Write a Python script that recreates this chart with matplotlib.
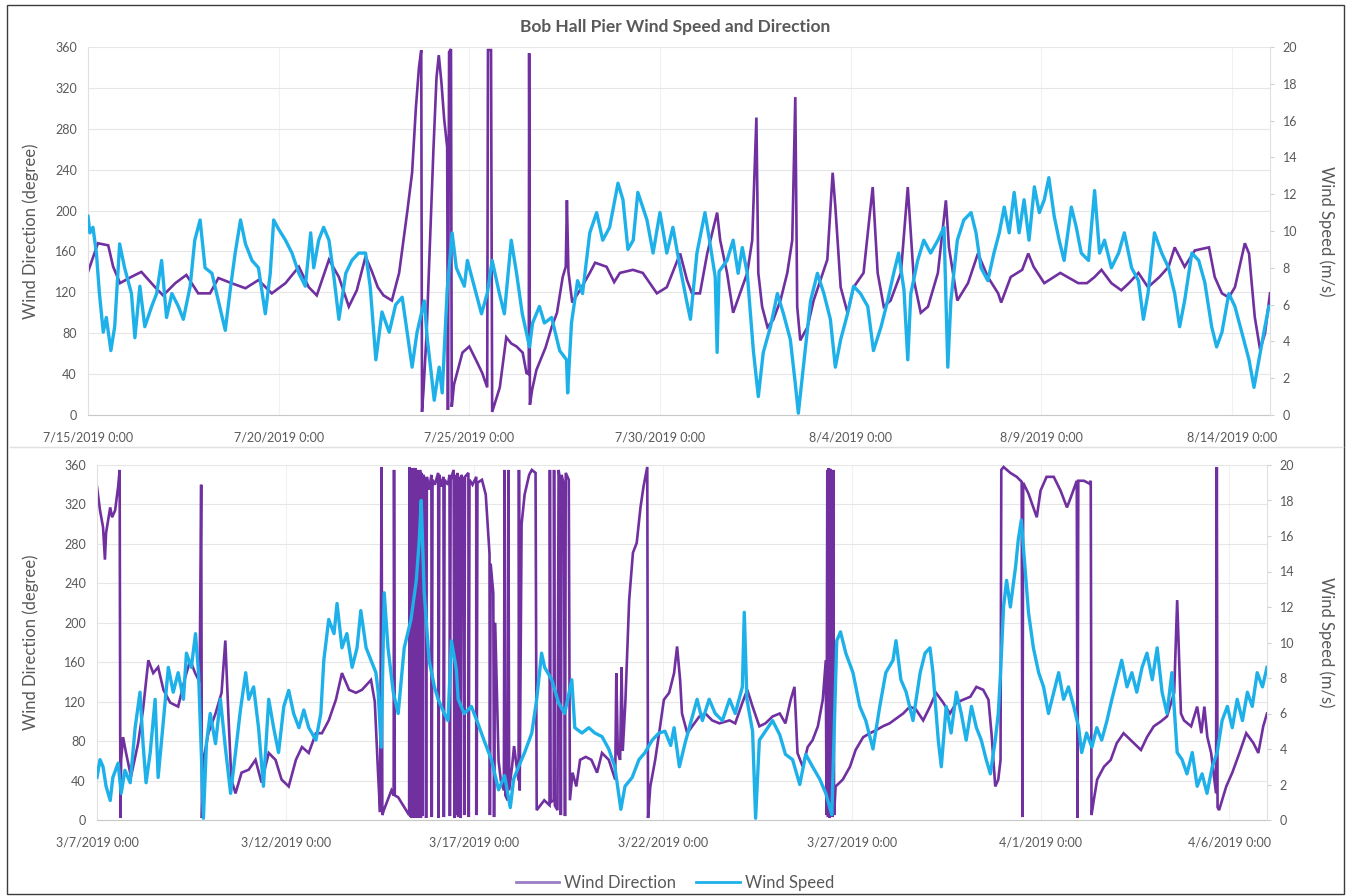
import matplotlib
matplotlib.use("Agg")
import matplotlib.pyplot as plt
import matplotlib.dates as mdates
import numpy as np
import pandas as pd
from matplotlib.lines import Line2D
from matplotlib.patches import Rectangle

plt.rcParams['font.family'] = ['Lato', 'DejaVu Sans']

# ---------------- DATA (day offset from panel start, value) ----------------
top_start = "2019-07-15"
bottom_start = "2019-03-07"
n_days = 31
top_tick_days = [0, 5, 10, 15, 20, 25, 30]
bottom_tick_days = [0, 5, 10, 15, 20, 25, 30]

top_dir = [(0.0,140),(0.26,168),(0.53,166),(0.66,145),(0.84,129),(1.13,135),(1.4,140),(1.76,125),(1.97,117),
(2.29,129),(2.58,137),(2.89,119),(3.2,119),(3.42,134),(3.76,129),(4.13,124),(4.47,132),(4.82,119),(5.18,129),
(5.53,145),(5.79,125),(6.0,117),(6.32,152),(6.58,135),(6.84,106),(7.05,122),(7.28,155),(7.45,140),(7.6,125),
(7.75,117),(7.97,112),(8.16,139),(8.37,198),(8.5,237),(8.6,301),(8.68,340),(8.74,357),(8.76,3),(8.8,25),
(8.88,80),(8.97,170),(9.06,260),(9.14,330),(9.2,352),(9.27,325),(9.34,290),(9.42,262),(9.44,5),(9.47,355),
(9.52,358),(9.54,8),(9.6,30),(9.82,61),(10.0,67),(10.2,52),(10.34,41),(10.47,27),(10.49,357),(10.57,357),
(10.6,3),(10.8,27),(10.97,76),(11.1,70),(11.24,67),(11.4,61),(11.5,41),(11.56,40),(11.57,354),(11.59,10),
(11.65,25),(11.76,44),(12.0,66),(12.16,86),(12.3,100),(12.45,135),(12.53,145),(12.56,210),(12.6,140),
(12.7,110),(12.9,122),(13.16,139),(13.3,149),(13.6,145),(13.8,130),(13.95,139),(14.29,142),(14.55,139),
(14.92,119),(15.18,125),(15.53,158),(15.71,132),(15.84,119),(16.05,119),(16.24,158),(16.5,198),(16.58,171),
(16.76,139),(16.92,100),(17.1,119),(17.29,139),(17.42,171),(17.53,291),(17.58,139),(17.68,106),(17.82,86),
(17.97,93),(18.16,112),(18.34,139),(18.47,171),(18.55,311),(18.6,106),(18.68,73),(18.87,86),(19.03,112),
(19.21,132),(19.39,152),(19.53,237),(19.6,204),(19.74,125),(19.92,100),(20.08,125),(20.34,139),(20.58,223),
(20.71,139),(20.87,106),(21.05,112),(21.32,139),(21.5,223),(21.66,132),(21.84,100),(22.03,106),(22.29,139),
(22.5,210),(22.58,164),(22.8,112),(23.08,129),(23.34,158),(23.6,135),(23.87,119),(23.95,110),(24.2,135),
(24.5,142),(24.66,158),(24.8,145),(25.08,129),(25.5,139),(25.97,129),(26.2,129),(26.4,135),(26.58,142),
(26.84,129),(27.1,122),(27.3,129),(27.55,139),(27.8,125),(28.1,135),(28.34,145),(28.5,164),(28.76,145),
(29.03,161),(29.4,164),(29.55,135),(29.74,119),(29.92,115),(30.08,125),(30.34,168),(30.45,158),(30.6,96),
(30.74,64),(30.87,80),(31.0,119)]

top_spd = [(0.0,10.8),(0.05,9.9),(0.13,10.2),(0.22,8.8),(0.3,6.6),(0.4,4.5),(0.48,5.3),(0.6,3.5),(0.7,4.8),
(0.83,9.3),(0.96,8.0),(1.14,6.6),(1.23,4.2),(1.36,7.0),(1.49,4.8),(1.67,5.9),(1.8,6.6),(1.93,8.4),(2.06,5.3),
(2.2,6.6),(2.37,5.9),(2.5,5.2),(2.68,7.0),(2.8,9.5),(2.94,10.6),(3.07,8.0),(3.25,7.7),(3.42,6.2),(3.6,4.6),
(3.73,6.8),(3.86,8.8),(4.0,10.6),(4.13,9.3),(4.3,8.4),(4.47,8.0),(4.65,5.5),(4.78,7.7),(4.87,10.6),(5.0,10.1),
(5.18,9.5),(5.35,8.8),(5.53,7.7),(5.7,7.0),(5.84,9.9),(5.92,8.0),(6.05,9.5),(6.18,10.2),(6.32,9.5),(6.45,7.5),
(6.58,5.2),(6.76,7.7),(6.92,8.4),(7.1,8.8),(7.28,8.8),(7.4,7.0),(7.55,3.0),(7.71,5.6),(7.9,4.5),(8.07,6.0),
(8.24,6.4),(8.37,4.5),(8.5,2.6),(8.63,4.5),(8.82,6.2),(8.9,4.1),(9.0,2.3),(9.08,0.8),(9.21,2.6),(9.29,1.2),
(9.42,6.8),(9.55,9.9),(9.66,8.0),(9.87,7.0),(9.95,8.4),(10.13,7.0),(10.32,5.5),(10.47,6.6),(10.6,8.4),
(10.79,6.6),(10.92,5.5),(11.1,9.5),(11.24,7.7),(11.39,5.5),(11.58,3.7),(11.66,5.0),(11.84,5.9),(11.97,5.0),
(12.16,5.3),(12.37,3.5),(12.55,3.0),(12.58,1.2),(12.68,5.0),(12.84,7.3),(12.97,6.6),(13.16,9.9),(13.34,11.0),
(13.5,9.5),(13.68,10.2),(13.9,12.6),(14.03,11.7),(14.16,9.0),(14.3,9.5),(14.42,12.1),(14.66,10.6),(14.82,8.8),
(15.0,11.0),(15.18,8.8),(15.34,10.2),(15.53,8.0),(15.7,6.2),(15.8,5.2),(15.97,8.8),(16.18,11.0),(16.3,9.5),
(16.45,7.5),(16.5,3.4),(16.55,7.8),(16.76,8.4),(16.92,9.5),(17.05,7.7),(17.16,9.1),(17.29,7.7),(17.45,3.5),
(17.58,1.0),(17.71,3.4),(17.9,4.8),(18.08,6.6),(18.24,5.5),(18.42,4.1),(18.55,1.7),(18.63,0.1),(18.76,2.6),
(18.95,6.2),(19.13,7.7),(19.3,6.6),(19.47,5.2),(19.6,2.6),(19.74,4.1),(19.92,5.5),(20.08,7.0),(20.26,6.6),
(20.45,5.9),(20.6,3.5),(20.8,4.8),(20.97,6.2),(21.13,7.7),(21.26,8.8),(21.4,6.8),(21.5,3.0),(21.58,6.6),
(21.76,8.4),(21.92,9.5),(22.1,8.8),(22.29,9.5),(22.45,10.2),(22.55,2.6),(22.63,6.2),(22.8,9.5),(22.97,10.6),
(23.16,11.0),(23.29,9.9),(23.42,8.0),(23.6,7.3),(23.76,8.8),(23.9,9.9),(24.03,11.3),(24.16,9.9),(24.29,12.1),
(24.42,9.9),(24.55,11.7),(24.68,9.5),(24.82,12.4),(24.95,11.0),(25.08,11.7),(25.2,12.9),(25.34,10.8),
(25.47,9.5),(25.6,8.4),(25.79,11.3),(25.92,10.2),(26.05,8.8),(26.24,8.4),(26.4,12.2),(26.53,8.8),(26.66,9.5),
(26.84,8.0),(27.03,8.8),(27.18,9.9),(27.37,8.0),(27.55,7.3),(27.68,5.2),(27.8,6.6),(27.97,9.9),(28.16,8.8),
(28.34,8.0),(28.5,6.6),(28.63,4.8),(28.76,6.2),(28.95,8.8),(29.13,8.4),(29.29,7.2),(29.47,4.8),(29.6,3.7),
(29.74,4.5),(29.92,6.6),(30.08,5.9),(30.26,4.5),(30.45,3.0),(30.58,1.5),(30.71,3.0),(30.84,4.5),(30.97,5.9)]

bottom_dir = [(0.0,338),(0.08,314),(0.16,297),(0.21,264),(0.24,291),(0.35,317),(0.4,307),(0.48,314),(0.56,338),
(0.6,355),(0.62,2),(0.64,61),(0.69,84),(0.77,68),(0.9,44),(1.09,78),(1.22,112),(1.36,162),(1.49,149),(1.62,155),
(1.76,132),(1.94,119),(2.15,115),(2.34,145),(2.47,162),(2.6,149),(2.72,140),(2.76,340),(2.78,2),(2.82,61),
(2.95,88),(3.14,108),(3.3,129),(3.4,182),(3.48,108),(3.56,41),(3.67,27),(3.83,48),(4.02,51),(4.2,61),(4.36,38),
(4.55,68),(4.73,61),(4.89,41),(5.08,34),(5.27,61),(5.43,74),(5.61,68),(5.8,88),(5.96,88),(6.14,101),(6.33,122),
(6.49,149),(6.68,132),(6.86,129),(7.02,132),(7.26,142),(7.36,120),(7.45,45),(7.5,8),(7.54,358),(7.56,5),
(7.6,10),(7.8,30),(7.86,25),(7.87,355),(7.89,25),(7.98,23),(8.14,13),(8.27,5),(8.28,358),(8.3,3),(8.32,356),
(8.34,2),(8.36,357),(8.38,3),(8.4,355),(8.42,2),(8.44,357),(8.46,3),(8.48,355),(8.5,2),(8.52,352),(8.54,4),
(8.56,355),(8.58,2),(8.6,352),(8.62,4),(8.64,350),(8.70,345),(8.72,2),(8.74,348),
(8.8,335),(8.86,350),(8.87,3),(8.89,345),(8.95,340),(9.04,352),(9.05,2),(9.07,350),(9.12,338),(9.18,348),
(9.19,3),(9.21,345),(9.3,340),(9.34,350),(9.35,4),(9.37,345),(9.45,355),(9.47,2),(9.49,350),(9.53,5),
(9.55,352),(9.57,3),(9.59,348),(9.63,2),(9.65,350),(9.7,345),(9.73,5),(9.75,348),(9.84,352),(9.85,3),
(9.87,345),(9.95,340),(10.05,348),(10.06,5),(10.08,342),(10.2,345),(10.3,330),(10.35,300),(10.4,270),
(10.41,5),(10.43,260),(10.5,230),(10.52,3),(10.55,200),(10.6,120),(10.64,60),(10.7,40),(10.78,30),(10.8,355),
(10.82,25),(10.88,20),(10.9,355),(10.92,30),(11.0,55),(11.05,75),(11.1,60),(11.17,40),(11.18,355),(11.2,30),
(11.25,300),(11.33,330),(11.45,350),(11.52,355),(11.62,352),(11.65,10),(11.75,15),(11.85,20),(11.99,15),
(12.0,355),(12.02,18),(12.1,20),(12.11,355),(12.13,15),(12.2,10),(12.23,355),(12.27,345),(12.29,5),
(12.31,350),(12.37,340),(12.4,4),(12.42,352),(12.5,345),(12.53,20),(12.6,48),(12.7,34),(12.8,61),(12.95,64),
(13.1,61),(13.25,48),(13.38,68),(13.56,61),(13.73,41),(13.76,149),(13.8,68),(13.86,61),(13.9,155),(13.93,70),
(14.0,120),(14.1,223),(14.2,271),(14.3,281),(14.4,317),(14.48,338),(14.55,352),(14.58,358),(14.6,2),
(14.66,34),(14.79,61),(14.92,95),(15.02,122),(15.16,129),(15.29,149),(15.37,176),(15.45,142),(15.5,108),
(15.64,88),(15.77,95),(15.96,105),(16.12,108),(16.3,101),(16.49,98),(16.76,101),(16.91,98),(17.1,119),
(17.23,132),(17.37,115),(17.55,95),(17.71,98),(17.9,105),(18.09,108),(18.24,98),(18.38,122),(18.48,135),
(18.56,68),(18.7,54),(18.83,74),(18.96,81),(19.1,95),(19.23,122),(19.31,162),(19.33,5),(19.35,355),
(19.37,3),(19.39,357),(19.41,2),(19.43,356),(19.45,4),(19.47,354),(19.49,3),(19.51,355),(19.53,5),
(19.57,34),(19.76,41),(19.95,54),(20.1,71),(20.3,84),(20.48,88),(20.64,91),(20.82,95),(21.0,98),(21.36,108),
(21.54,115),(21.7,112),(21.89,101),(22.07,115),(22.23,129),(22.42,119),(22.6,108),(22.77,119),(22.95,122),
(23.14,125),(23.3,135),(23.48,132),(23.62,122),(23.7,88),(23.8,34),(23.88,41),(23.94,61),(23.96,355),
(24.02,358),(24.2,352),(24.37,348),(24.5,343),(24.52,3),(24.54,342),(24.68,331),(24.81,317),(24.9,307),
(25.0,334),(25.16,348),(25.35,348),(25.53,334),(25.7,317),(25.8,327),(25.96,344),(25.98,2),(26.0,344),
(26.15,344),(26.3,341),(26.33,344),(26.35,5),(26.41,20),(26.5,41),(26.68,54),(26.86,61),(27.02,78),(27.2,88),
(27.47,78),(27.66,71),(27.82,84),(28.0,95),(28.19,100),(28.35,105),(28.54,129),(28.62,223),(28.72,108),
(28.8,101),(28.99,95),(29.15,115),(29.26,88),(29.34,115),(29.42,84),(29.52,68),(29.65,27),(29.67,358),
(29.69,13),(29.73,10),(29.92,34),(30.08,48),(30.27,68),(30.45,88),(30.64,78),(30.77,68),(30.9,95),(31.0,108)]

bottom_spd = [(0.0,2.4),(0.08,3.4),(0.16,3.0),(0.24,1.9),(0.35,1.1),(0.42,2.4),(0.56,3.2),(0.64,1.5),(0.74,2.8),
(0.88,2.1),(1.01,5.2),(1.14,7.2),(1.22,4.3),(1.3,2.1),(1.41,3.8),(1.54,6.8),(1.62,2.4),(1.76,5.6),(1.89,8.6),
(2.02,7.2),(2.15,8.3),(2.29,6.8),(2.37,9.4),(2.5,8.6),(2.61,10.5),(2.69,8.3),(2.77,3.4),(2.82,0.1),(2.9,4.3),
(3.0,6.0),(3.14,4.3),(3.27,6.8),(3.4,4.1),(3.54,1.5),(3.67,3.8),(3.8,6.2),(3.94,8.3),(4.02,6.8),(4.15,7.5),
(4.28,5.2),(4.41,1.9),(4.55,6.8),(4.68,5.2),(4.81,3.8),(4.95,6.4),(5.08,7.3),(5.21,6.0),(5.35,5.2),(5.48,6.2),
(5.61,5.2),(5.8,4.5),(5.93,6.0),(6.01,9.0),(6.14,11.3),(6.28,10.5),(6.36,12.2),(6.49,9.7),(6.62,10.5),
(6.76,8.6),(6.89,9.7),(6.99,11.8),(7.13,9.7),(7.26,9.0),(7.39,8.3),(7.45,7.2),(7.53,4.1),(7.61,12.8),
(7.71,9.7),(7.85,7.2),(7.98,6.0),(8.14,9.7),(8.32,11.3),(8.46,13.5),(8.54,15.8),(8.59,18.0),(8.67,12.8),
(8.8,9.0),(8.94,7.5),(9.04,6.8),(9.2,6.0),(9.3,5.6),(9.39,10.1),(9.52,8.5),(9.57,6.8),(9.73,6.0),(9.92,6.4),
(10.1,5.4),(10.27,4.4),(10.45,3.4),(10.64,1.7),(10.8,2.5),(10.95,0.7),(11.04,2.3),(11.17,3.0),(11.33,3.8),
(11.52,4.9),(11.65,6.8),(11.78,9.4),(11.86,8.6),(12.05,7.9),(12.23,6.6),(12.39,6.0),(12.58,7.9),(12.66,5.2),
(12.85,4.9),(13.03,5.2),(13.19,4.9),(13.38,4.7),(13.56,4.0),(13.72,3.0),(13.88,0.6),(13.99,1.9),(14.18,2.4),
(14.36,3.4),(14.52,3.8),(14.71,4.5),(14.89,4.9),(15.05,5.0),(15.2,4.2),(15.29,5.2),(15.43,3.0),(15.59,4.4),
(15.77,5.8),(15.9,6.8),(16.04,5.6),(16.22,6.8),(16.38,6.0),(16.57,5.6),(16.76,6.8),(16.91,6.0),(17.1,7.5),
(17.15,11.7),(17.22,6.8),(17.37,5.0),(17.45,0.1),(17.55,4.5),(17.71,5.0),(17.9,5.6),(18.09,4.8),(18.24,3.7),
(18.43,3.4),(18.62,2.0),(18.78,3.7),(18.96,3.0),(19.15,2.3),(19.31,1.5),(19.47,0.3),(19.6,10.1),(19.7,10.6),
(19.84,9.4),(20.03,8.3),(20.21,6.4),(20.37,5.6),(20.56,4.0),(20.74,6.4),(20.9,8.3),(21.09,9.0),(21.17,10.1),
(21.3,7.9),(21.44,7.2),(21.62,5.6),(21.81,8.3),(21.94,9.4),(22.07,9.7),(22.15,8.3),(22.29,4.5),(22.37,3.0),
(22.5,6.4),(22.63,4.9),(22.77,7.2),(22.9,6.0),(23.03,4.5),(23.17,6.4),(23.3,5.2),(23.43,4.5),(23.56,3.4),
(23.67,2.6),(23.8,4.5),(23.88,6.0),(23.94,8.3),(24.02,12.0),(24.1,13.5),(24.2,12.0),(24.34,14.3),(24.41,15.8),
(24.49,16.9),(24.6,13.9),(24.68,11.7),(24.81,9.7),(24.95,8.3),(25.08,7.5),(25.21,6.0),(25.35,7.2),(25.48,8.3),
(25.61,6.8),(25.74,7.5),(25.88,6.4),(26.01,5.2),(26.09,3.8),(26.22,4.9),(26.36,4.1),(26.49,5.2),(26.62,4.5),
(26.76,5.6),(26.89,6.8),(27.02,7.9),(27.15,9.0),(27.29,7.5),(27.42,8.3),(27.55,7.2),(27.69,8.6),(27.82,9.4),
(27.96,7.9),(28.09,9.7),(28.22,7.2),(28.35,6.0),(28.48,8.3),(28.62,3.8),(28.75,3.4),(28.88,2.6),(29.02,3.8),
(29.15,1.9),(29.28,2.6),(29.41,1.5),(29.55,3.0),(29.68,3.8),(29.81,5.6),(29.95,6.4),(30.08,5.2),(30.21,6.8),
(30.35,5.6),(30.48,7.2),(30.61,6.4),(30.74,8.3),(30.88,7.5),(31.0,8.6)]

title = "Bob Hall Pier Wind Speed and Direction"
left_label = "Wind Direction (degree)"
right_label = "Wind Speed (m/s)"
series_names = ["Wind Direction", "Wind Speed"]

# ---------------- STYLE ----------------
W, H = 1349, 896
PURPLE = "#7030A0"
CYAN = "#1EB1E9"
GREY = "#595959"
GRID = "#E6E6E6"
VGRID = "#F1F1F1"

def to_dates(start, pairs):
    d = np.array([p[0] for p in pairs])
    v = np.array([p[1] for p in pairs])
    t = pd.Timestamp(start) + pd.to_timedelta(d, unit="D")
    return t, v

fig = plt.figure(figsize=(W/100, H/100), dpi=100)

def fmt(x, pos=None):
    d = mdates.num2date(x)
    return f"{d.month}/{d.day}/{d.year} 0:00"

def make_panel(rect, start, dir_pairs, spd_pairs, tick_days):
    ax = fig.add_axes(rect)
    axr = ax.twinx()
    t1, v1 = to_dates(start, dir_pairs)
    t2, v2 = to_dates(start, spd_pairs)
    ax.plot(t1, v1, color=PURPLE, lw=1.9, solid_joinstyle='miter')
    axr.plot(t2, v2, color=CYAN, lw=2.4)
    s = pd.Timestamp(start)
    ax.set_xlim(s, s + pd.Timedelta(days=n_days))
    ax.set_ylim(0, 360)
    axr.set_ylim(0, 20)
    ax.set_yticks(range(0, 361, 40))
    axr.set_yticks(range(0, 21, 2))
    ticks = [s + pd.Timedelta(days=k) for k in tick_days]
    ax.set_xticks(ticks)
    ax.xaxis.set_major_formatter(plt.FuncFormatter(fmt))
    ax.grid(True, axis='y', color=GRID, lw=0.8)
    ax.grid(True, axis='x', color=VGRID, lw=0.8)
    ax.set_axisbelow(True)
    for a in (ax, axr):
        for sp in a.spines.values():
            sp.set_visible(False)
    ax.spines['bottom'].set_visible(True)
    ax.spines['bottom'].set_color("#C8C8C8")
    ax.spines['left'].set_visible(True)
    ax.spines['left'].set_color("#E0E0E0")
    axr.spines['right'].set_visible(True)
    axr.spines['right'].set_color("#E0E0E0")
    ax.tick_params(axis='y', length=0, pad=8, labelsize=9, labelcolor=GREY)
    axr.tick_params(axis='y', length=3, color="#D0D0D0", pad=6, labelsize=9, labelcolor=GREY)
    ax.tick_params(axis='x', length=0, pad=12, labelsize=9, labelcolor=GREY)
    return ax, axr

top_rect = [88/W, 1-415/H, (1270-88)/W, (415-47)/H]
bot_rect = [97/W, 1-820/H, (1267-97)/W, (820-465)/H]
ax1, ax1r = make_panel(top_rect, top_start, top_dir, top_spd, top_tick_days)
ax2, ax2r = make_panel(bot_rect, bottom_start, bottom_dir, bottom_spd, bottom_tick_days)

fig.text(675/W, 1-27/H, title, ha='center', va='center', fontsize=12.5, fontweight='bold', color=GREY)
for yc in ((47+415)/2, (465+820)/2):
    fig.text(31/W, 1-yc/H, left_label, rotation=90, ha='center', va='center', fontsize=12, color=GREY)
    fig.text(1326/W, 1-yc/H, right_label, rotation=270, ha='center', va='center', fontsize=12, color=GREY)

handles = [Line2D([], [], color="#9A7DC4", lw=2), Line2D([], [], color=CYAN, lw=2)]
fig.legend(handles, series_names, loc='center', bbox_to_anchor=(675/W, 1-883/H), ncol=2,
           frameon=False, fontsize=12, labelcolor=GREY, handlelength=2.6, columnspacing=1.2, handletextpad=0.3)

# separator and outer frame
fig.add_artist(Line2D([10/W, 1343/W], [1-447/H, 1-447/H], color="#E0E0E0", lw=1.0))
fig.add_artist(Rectangle((7/W, 1-894/H), (1344-7)/W, (894-5)/H, fill=False, edgecolor="#3C3C3C", lw=1.0))

fig.savefig("out.png", dpi=100)
